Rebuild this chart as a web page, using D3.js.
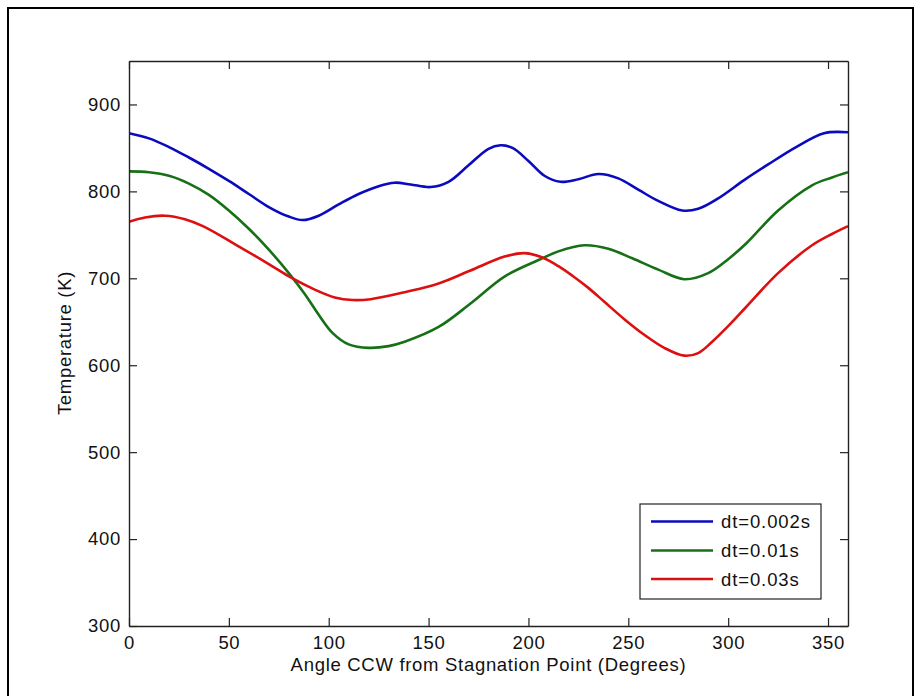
<!DOCTYPE html>
<html>
<head>
<meta charset="utf-8">
<script src="https://cdn.jsdelivr.net/npm/d3@7"></script>
<style>
  html, body { margin: 0; padding: 0; background: #fff; }
  svg { display: block; }
  text { font-family: "Liberation Sans", Arial, Helvetica, sans-serif; fill: #111; }
</style>
</head>
<body>
<script>
// Temperature around the cylinder surface for three time steps
const angleDt002 = [0, 10, 20, 30, 40, 50, 60, 70, 80, 87, 95, 105, 115, 125, 133, 141, 151, 160, 170, 180, 186, 192, 200, 208, 216, 225, 235, 245, 255, 265, 277, 285, 295, 308, 320, 334, 348, 360];
const tempDt002  = [867, 861, 851, 839, 826, 812, 797, 782, 771, 767, 772, 785, 797, 806, 810, 808, 805, 811, 830, 849, 853, 850, 835, 818, 811, 814, 820, 815, 802, 789, 778, 780, 792, 813, 831, 851, 867, 868];

const angleDt01 = [0, 10, 20, 30, 40, 50, 60, 70, 80, 88, 95, 102, 110, 120, 130, 138, 155, 171, 188, 205, 215, 228, 240, 252, 265, 278, 290, 300, 309, 325, 342, 352, 360];
const tempDt01  = [823, 822, 818, 809, 796, 778, 757, 733, 706, 682, 658, 637, 624, 620, 622, 627, 644, 671, 702, 721, 731, 738, 734, 723, 710, 699, 706, 722, 740, 778, 807, 816, 822];

const angleDt03 = [0, 8, 18, 28, 37, 54, 71, 81, 93, 103, 112, 121, 138, 155, 171, 188, 198, 207, 215, 222, 230, 238, 248, 258, 268, 278, 285, 292, 300, 309, 325, 342, 352, 360];
const tempDt03  = [765, 770, 772, 768, 760, 738, 715, 701, 687, 678, 675, 676, 684, 694, 709, 725, 729, 724, 714, 703, 689, 673, 653, 635, 620, 611, 614, 627, 645, 667, 706, 738, 751, 760];

const seriesNames  = ["dt=0.002s", "dt=0.01s", "dt=0.03s"];
const seriesColors = ["#0a0abf", "#167016", "#dc1010"];

const xTicks = [0, 50, 100, 150, 200, 250, 300, 350];
const yTicks = [300, 400, 500, 600, 700, 800, 900];
const xDomain = [0, 360];
const yDomain = [300, 950];

const xLabel = "Angle CCW from Stagnation Point (Degrees)";
const yLabel = "Temperature (K)";

const W = 922, H = 696;
const plot = { left: 129, top: 61, right: 848, bottom: 626 };

const svg = d3.select("body").append("svg").attr("width", W).attr("height", H);
svg.append("rect").attr("width", W).attr("height", H).attr("fill", "#fff");

// outer figure frame
svg.append("rect")
  .attr("x", 8).attr("y", 8).attr("width", 905).attr("height", 720)
  .attr("fill", "none").attr("stroke", "#000").attr("stroke-width", 2);

const x = d3.scaleLinear().domain(xDomain).range([plot.left, plot.right]);
const y = d3.scaleLinear().domain(yDomain).range([plot.bottom, plot.top]);

const tickLen = 8;
const axisColor = "#222";

// clip for the data lines
svg.append("clipPath").attr("id", "plotClip")
  .append("rect")
  .attr("x", plot.left).attr("y", plot.top)
  .attr("width", plot.right - plot.left).attr("height", plot.bottom - plot.top);

const series = [
  { name: seriesNames[0], color: seriesColors[0], xs: angleDt002, ys: tempDt002 },
  { name: seriesNames[1], color: seriesColors[1], xs: angleDt01,  ys: tempDt01 },
  { name: seriesNames[2], color: seriesColors[2], xs: angleDt03,  ys: tempDt03 }
];

const line = d3.line()
  .x(d => x(d[0]))
  .y(d => y(d[1]))
  .curve(d3.curveCatmullRom.alpha(0.5));

const lines = svg.append("g").attr("clip-path", "url(#plotClip)");
series.forEach(s => {
  lines.append("path")
    .datum(s.xs.map((a, i) => [a, s.ys[i]]))
    .attr("d", line)
    .attr("fill", "none")
    .attr("stroke", s.color)
    .attr("stroke-width", 2.6)
    .attr("stroke-linejoin", "round");
});

// axes: bottom/left with labels, top/right mirrored ticks only
const fontSize = 18.5;
const spacing = "0.7px";
const bottomAxis = d3.axisBottom(x).tickValues(xTicks).tickSizeInner(-tickLen).tickSizeOuter(0).tickPadding(10);
const leftAxis = d3.axisLeft(y).tickValues(yTicks).tickSizeInner(-tickLen).tickSizeOuter(0).tickPadding(8);
const topAxis = d3.axisTop(x).tickValues(xTicks).tickSizeInner(-tickLen).tickSizeOuter(0).tickFormat("");
const rightAxis = d3.axisRight(y).tickValues(yTicks).tickSizeInner(-tickLen).tickSizeOuter(0).tickFormat("");

function styleAxis(g) {
  g.select(".domain").attr("stroke", axisColor).attr("stroke-width", 1.4);
  g.selectAll(".tick line").attr("stroke", axisColor).attr("stroke-width", 1.2);
  g.selectAll(".tick text")
    .attr("fill", "#111")
    .style("font-family", "'Liberation Sans', Arial, sans-serif")
    .style("font-size", fontSize + "px")
    .style("letter-spacing", spacing);
}

svg.append("g").attr("transform", `translate(0,${plot.bottom})`).call(bottomAxis).call(styleAxis);
svg.append("g").attr("transform", `translate(${plot.left},0)`).call(leftAxis).call(styleAxis);
svg.append("g").attr("transform", `translate(0,${plot.top})`).call(topAxis).call(styleAxis);
svg.append("g").attr("transform", `translate(${plot.right},0)`).call(rightAxis).call(styleAxis);

// axis titles
svg.append("text")
  .attr("x", (plot.left + plot.right) / 2)
  .attr("y", 671)
  .attr("text-anchor", "middle")
  .style("font-size", fontSize + "px")
  .style("letter-spacing", spacing)
  .text(xLabel);

svg.append("text")
  .attr("transform", `translate(71,343) rotate(-90)`)
  .attr("text-anchor", "middle")
  .style("font-size", fontSize + "px")
  .style("letter-spacing", spacing)
  .text(yLabel);

// legend
const legend = { x: 640, y: 504, w: 181, h: 95 };
const lg = svg.append("g");
lg.append("rect")
  .attr("x", legend.x).attr("y", legend.y)
  .attr("width", legend.w).attr("height", legend.h)
  .attr("fill", "#fff").attr("stroke", axisColor).attr("stroke-width", 1.2);

const rowY = [521.5, 550.5, 579];
series.forEach((s, i) => {
  lg.append("line")
    .attr("x1", legend.x + 11).attr("x2", legend.x + 73)
    .attr("y1", rowY[i]).attr("y2", rowY[i])
    .attr("stroke", s.color).attr("stroke-width", 2.6);
  lg.append("text")
    .attr("x", legend.x + 81)
    .attr("y", rowY[i])
    .attr("dy", "0.36em")
    .style("font-size", fontSize + "px")
    .style("letter-spacing", "0.9px")
    .text(s.name);
});
</script>
</body>
</html>
